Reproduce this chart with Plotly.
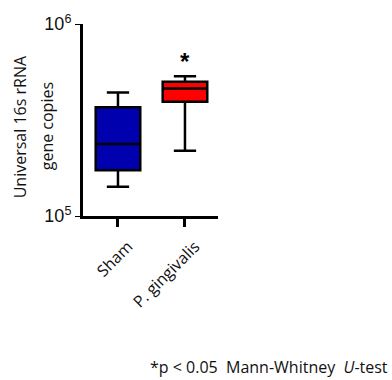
import plotly.graph_objects as go

categories = ["Sham", "P. gingivalis"]
lower_whisker = [1.42e5, 2.19e5]
q1 = [1.73e5, 3.94e5]
median = [2.37e5, 4.62e5]
q3 = [3.69e5, 5.00e5]
upper_whisker = [4.40e5, 5.34e5]
fill_colors = ["#0000AE", "#FF0000"]
y_tick_vals = [1e5, 1e6]
y_tick_text = ["10<sup>5</sup>", "10<sup>6</sup>"]
footnote = "*p < 0.05\u00a0 Mann-Whitney\u00a0 <i>U</i>-test"

fig = go.Figure()
for i, c in enumerate(categories):
    fig.add_trace(go.Box(
        x=[c], q1=[q1[i]], median=[median[i]], q3=[q3[i]],
        lowerfence=[lower_whisker[i]], upperfence=[upper_whisker[i]],
        fillcolor=fill_colors[i], line=dict(color="black", width=2.5),
        width=0.665, whiskerwidth=0.5, boxpoints=False, showlegend=False,
        hoverinfo="skip",
    ))

fig.update_layout(
    width=392, height=380,
    margin=dict(l=83, r=174, t=19, b=164),
    paper_bgcolor="white", plot_bgcolor="white",
    font=dict(family="Liberation Sans, Arial", color="black"),
    xaxis=dict(
        type="category", range=[-0.522, 1.493],
        showline=True, linecolor="black", linewidth=3,
        ticks="outside", ticklen=8, tickwidth=2.5, tickcolor="black",
        tickangle=-45, tickfont=dict(family="Open Sans", size=16, color="#111"),
        ticklabelshift=10, ticklabelstandoff=4,
        showgrid=False, zeroline=False,
    ),
    yaxis=dict(
        type="log", range=[5, 6],
        showline=True, linecolor="black", linewidth=3,
        ticks="outside", ticklen=5, tickwidth=1, tickcolor="black",
        tickvals=y_tick_vals, ticktext=y_tick_text,
        tickfont=dict(family="Liberation Sans, Arial", size=18, color="#111"),
        showgrid=False, zeroline=False,
    ),
)

fig.add_annotation(x="P. gingivalis", y=5.807, xref="x", yref="y", text="<b>*</b>",
                   showarrow=False, font=dict(family="Liberation Sans", size=24, color="black"),
                   yanchor="middle")
fig.add_annotation(x=-0.467, y=0.467, xref="paper", yref="paper", text="Universal 16s rRNA",
                   textangle=-90, showarrow=False, xanchor="center", yanchor="middle",
                   font=dict(family="Open Sans", size=16, color="#111"))
fig.add_annotation(x=-0.267, y=0.467, xref="paper", yref="paper", text="gene copies",
                   textangle=-90, showarrow=False, xanchor="center", yanchor="middle",
                   font=dict(family="Open Sans", size=16, color="#111"))
fig.add_annotation(x=2.274, y=-0.787, xref="paper", yref="paper", text=footnote,
                   showarrow=False, xanchor="right", yanchor="middle",
                   font=dict(family="Open Sans", size=16, color="#111"))

fig.write_html("out.html")
